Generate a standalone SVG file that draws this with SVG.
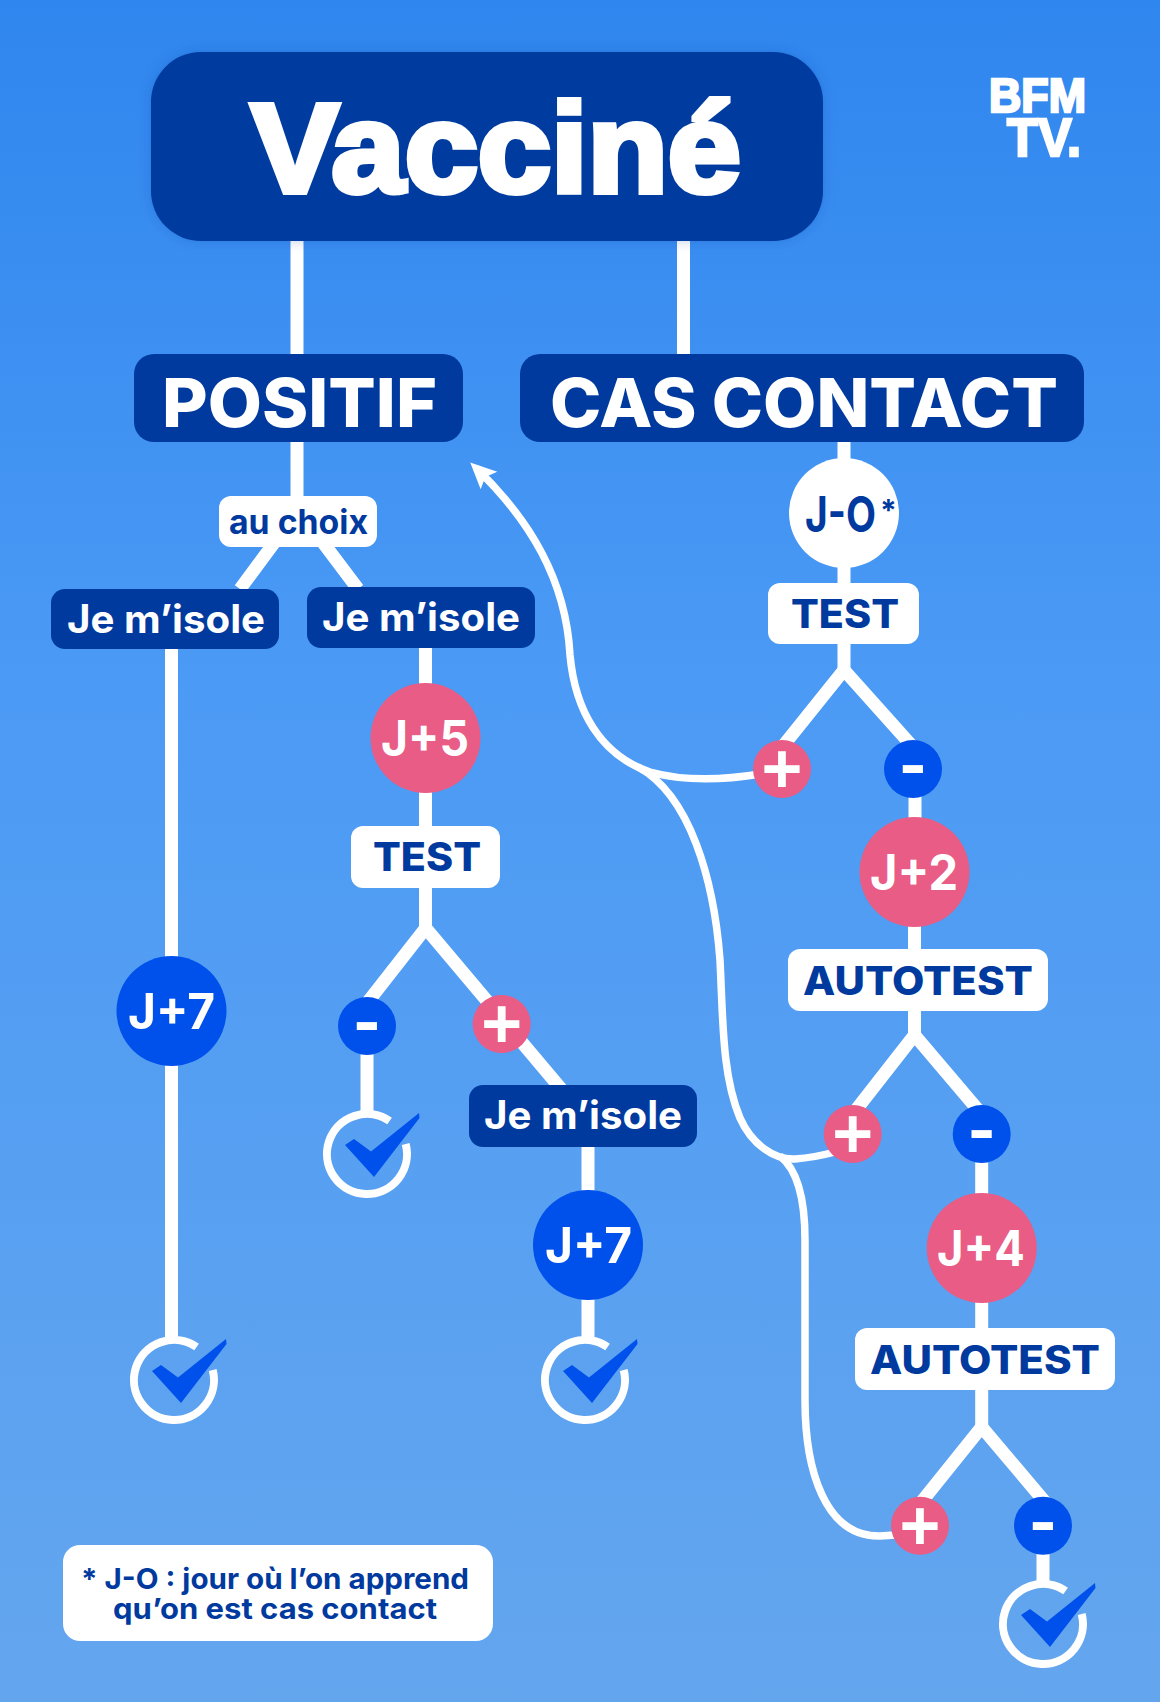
<svg xmlns="http://www.w3.org/2000/svg" width="1160" height="1702" viewBox="0 0 1160 1702">
<style>
text{font-family:"Inter","Liberation Sans",sans-serif;font-weight:700;text-anchor:start}
.w{fill:#fff}.d{fill:#003a9f}
.box-d{fill:#003a9f}.box-w{fill:#fff}.pink{fill:#e85c85}.blue{fill:#0050ec}
.l{fill:none;stroke:#fff;stroke-width:13;stroke-linejoin:miter}
.c{fill:none;stroke:#fff;stroke-width:7.500}
.lab{font-size:39px}
.hv{font-weight:800}
.j{font-size:49px;fill:#fff}
.sign{font-family:"Liberation Sans",sans-serif;font-size:70px;font-weight:700;fill:#fff;text-anchor:middle}
.minus{font-size:60px;font-weight:800;fill:#fff;text-anchor:middle}
.heavy{font-family:"Liberation Sans",sans-serif;stroke:#fff}
</style>
<defs>
<linearGradient id="bg" x1="0" y1="0" x2="0" y2="1">
<stop offset="0" stop-color="#2f86ee"/><stop offset="0.4" stop-color="#4b9af5"/><stop offset="1" stop-color="#64a6ee"/>
</linearGradient>
<filter id="sh" x="-10%" y="-10%" width="120%" height="120%"><feDropShadow dx="0" dy="0" stdDeviation="6" flood-color="#003a9f" flood-opacity="0.25"/></filter>
<marker id="arr" markerUnits="userSpaceOnUse" markerWidth="36" markerHeight="36" refX="24" refY="18" orient="auto">
<path d="M32,18 L6,6 L11,18 L6,30 Z" fill="#fff"/>
</marker>
<g id="check">
<path d="M22.600,-33 A40,40 0 1 0 38.700,-10" fill="none" stroke="#fff" stroke-width="8"/>
<path d="M-22,-9 L-13,-15 L4,-2.500 L52,-41 L52.500,-36 L7,23 Z" fill="#0050ec"/>
</g>
</defs>
<rect width="1160" height="1702" fill="url(#bg)"/>

<g id="connectors">
<path class="l" d="M297,241V354M683.500,241V354M297,442V500"/>
<path class="l" d="M240,589L298.500,510L358,589"/>
<path class="l" d="M171.500,649V1340M425.500,648V928M844,442V670"/>
<path class="l" d="M775,756L844,670L921,756M915,769V880"/>
<path class="l" d="M360,1012L425.700,928L562,1090M367,1025V1112M588,1147V1340"/>
<path class="l" d="M845,1124L914.500,1035L990,1124M914.500,880V1035M981.700,1134V1427"/>
<path class="l" d="M911,1515L981.700,1427L1056,1515M1043,1525V1585"/>
<path class="c" marker-end="url(#arr)" d="M760,774C730,779 690,783 650,772C600,755 575,710 570,655C566,580 530,520 476,468"/>
<path class="c" d="M638,767C690,795 714,880 720,960C723,1020 722,1075 740,1118C752,1145 775,1160 795,1159C808,1158 820,1156 835,1152"/>
<path class="c" d="M780,1156C798,1170 805,1200 805,1240V1400C805,1470 825,1537 880,1536L895,1535"/>
</g>

<g id="node-title"><rect x="151" y="52" width="672" height="189" rx="50" class="box-d" filter="url(#sh)"/>
<text x="251" y="192" font-size="126" class="w heavy" style="stroke-width:6px" textLength="490" lengthAdjust="spacingAndGlyphs">Vacciné</text></g>
<g id="logo">
<text class="w heavy" style="stroke-width:2.500px"><tspan x="989" y="112" font-size="48" textLength="97" lengthAdjust="spacingAndGlyphs">BFM</tspan><tspan x="1007" y="156" font-size="53" textLength="74" lengthAdjust="spacingAndGlyphs">TV.</tspan></text></g>
<g id="node-positif"><rect x="134" y="354" width="329" height="88" rx="20" class="box-d"/>
<text x="162" y="427" font-size="68" class="w hv" textLength="275" lengthAdjust="spacingAndGlyphs">POSITIF</text></g>
<g id="node-cas"><rect x="520" y="354" width="564" height="88" rx="20" class="box-d"/>
<text x="550" y="427" font-size="68" class="w hv" textLength="508" lengthAdjust="spacingAndGlyphs">CAS CONTACT</text></g>
<g id="node-choix"><rect x="219" y="496" width="158" height="51" rx="12" class="box-w"/>
<text x="229" y="534" font-size="34" class="d" textLength="139" lengthAdjust="spacingAndGlyphs">au choix</text></g>
<g id="node-isole1"><rect x="51" y="589" width="228" height="60" rx="14" class="box-d"/>
<text x="67" y="633" class="lab w" textLength="198" lengthAdjust="spacingAndGlyphs">Je m’isole</text></g>
<g id="node-isole2"><rect x="307" y="587" width="228" height="61" rx="14" class="box-d"/>
<text x="322" y="631" class="lab w" textLength="198" lengthAdjust="spacingAndGlyphs">Je m’isole</text></g>
<g id="node-isole3"><rect x="469" y="1085" width="228" height="62" rx="14" class="box-d"/>
<text x="484" y="1129" class="lab w" textLength="198" lengthAdjust="spacingAndGlyphs">Je m’isole</text></g>

<g id="node-j7a"><circle cx="171.500" cy="1011" r="55" class="blue"/><text x="128" y="1029" class="j" textLength="87" lengthAdjust="spacingAndGlyphs">J+7</text></g>
<g id="node-j5"><circle cx="425.500" cy="738" r="55" class="pink"/><text x="381" y="756" class="j" textLength="88" lengthAdjust="spacingAndGlyphs">J+5</text></g>
<g id="node-j7b"><circle cx="588" cy="1245" r="55" class="blue"/><text x="545" y="1263" class="j" textLength="87" lengthAdjust="spacingAndGlyphs">J+7</text></g>
<g id="node-j2"><circle cx="914.500" cy="872" r="55" class="pink"/><text x="870" y="890" class="j" textLength="88" lengthAdjust="spacingAndGlyphs">J+2</text></g>
<g id="node-j4"><circle cx="981.700" cy="1248" r="55" class="pink"/><text x="937" y="1266" class="j" textLength="88" lengthAdjust="spacingAndGlyphs">J+4</text></g>
<g id="node-j0"><circle cx="844" cy="513" r="55" class="box-w"/><text class="d" font-size="49"><tspan x="805" y="532" textLength="71" lengthAdjust="spacingAndGlyphs">J-O</tspan><tspan x="880" y="521" font-size="30">*</tspan></text></g>

<g id="node-test1"><rect x="768" y="583" width="151" height="61" rx="12" class="box-w"/><text x="791" y="628" class="lab d hv" textLength="108" lengthAdjust="spacingAndGlyphs">TEST</text></g>
<g id="node-test2"><rect x="351" y="826" width="149" height="62" rx="12" class="box-w"/><text x="373" y="871" class="lab d hv" textLength="108" lengthAdjust="spacingAndGlyphs">TEST</text></g>
<g id="node-auto1"><rect x="788" y="949" width="260" height="62" rx="12" class="box-w"/><text x="803" y="995" class="lab d hv" textLength="230" lengthAdjust="spacingAndGlyphs">AUTOTEST</text></g>
<g id="node-auto2"><rect x="855" y="1328" width="260" height="62" rx="12" class="box-w"/><text x="870" y="1374" class="lab d hv" textLength="230" lengthAdjust="spacingAndGlyphs">AUTOTEST</text></g>

<g id="plus1"><circle cx="782" cy="769" r="29" class="pink"/><text x="782" y="793" class="sign">+</text></g>
<g id="plus2"><circle cx="501.700" cy="1024" r="29" class="pink"/><text x="501.700" y="1048" class="sign">+</text></g>
<g id="plus3"><circle cx="852.700" cy="1134" r="29" class="pink"/><text x="852.700" y="1158" class="sign">+</text></g>
<g id="plus4"><circle cx="920" cy="1525.700" r="29" class="pink"/><text x="920" y="1549.700" class="sign">+</text></g>
<g id="minus1"><circle cx="913" cy="769" r="29" class="blue"/><text x="913" y="787" class="minus">-</text></g>
<g id="minus2"><circle cx="367" cy="1026" r="29" class="blue"/><text x="367" y="1044" class="minus">-</text></g>
<g id="minus3"><circle cx="981.700" cy="1134" r="29" class="blue"/><text x="981.700" y="1152" class="minus">-</text></g>
<g id="minus4"><circle cx="1043" cy="1525.700" r="29" class="blue"/><text x="1043" y="1543.700" class="minus">-</text></g>

<g id="check1"><use href="#check" x="174" y="1380"/></g>
<g id="check2"><use href="#check" x="367" y="1154"/></g>
<g id="check3"><use href="#check" x="585" y="1380"/></g>
<g id="check4"><use href="#check" x="1043" y="1624"/></g>

<g id="note"><rect x="63" y="1545" width="430" height="96" rx="17" class="box-w"/>
<text font-size="29" class="d"><tspan x="81" y="1589" textLength="388" lengthAdjust="spacingAndGlyphs">* J-O : jour où l’on apprend</tspan><tspan x="113" y="1619" textLength="324" lengthAdjust="spacingAndGlyphs">qu’on est cas contact</tspan></text></g>
</svg>
